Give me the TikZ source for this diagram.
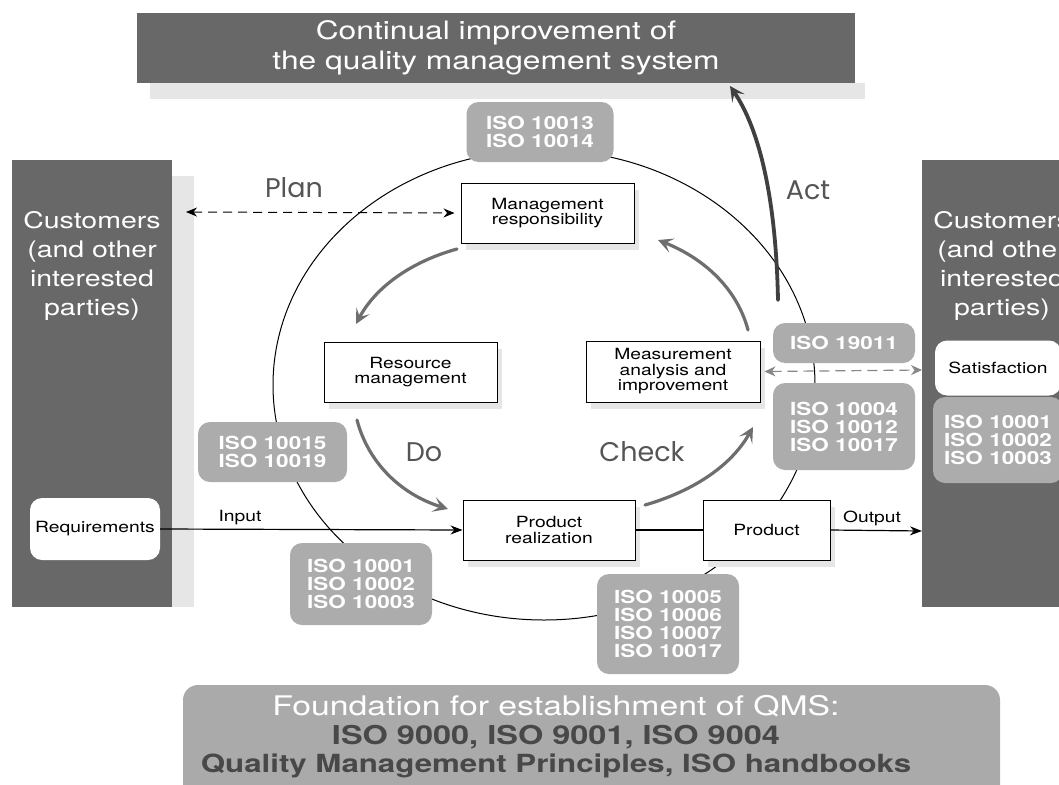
\documentclass[tikz,border=0pt]{standalone}
\usepackage{fontspec}
\setmainfont[FakeStretch=1.25]{TeX Gyre Heros}
\newfontfamily\pdcafont{Poppins}
\usetikzlibrary{arrows.meta,shadows}
\definecolor{panelgray}{RGB}{104,104,104}
\definecolor{isogray}{RGB}{172,172,172}
\definecolor{shadegray}{RGB}{230,230,230}
\definecolor{arrowgray}{RGB}{110,110,110}
\definecolor{foundgray}{RGB}{170,170,170}
\definecolor{founddark}{RGB}{72,72,72}
\definecolor{labelgray}{RGB}{85,85,85}
\definecolor{dashgray}{RGB}{135,135,135}
\begin{document}
\begin{tikzpicture}[x=1pt,y=-1pt,
  panel/.style={fill=panelgray, inner sep=0pt, align=center, text=white},
  stepbox/.style={draw=black, line width=1pt, fill=white, align=center, inner sep=0pt,
    font=\fontsize{15.4}{15.5}\selectfont,
    drop shadow={shadow xshift=5pt, shadow yshift=-7pt, fill=shadegray, opacity=1}},
  whitebox/.style={fill=white, rounded corners=12pt, inner sep=0pt, align=center,
    font=\fontsize{15.4}{16}\selectfont},
  iso/.style={fill=isogray, rounded corners=12pt, align=center, inner sep=0pt,
    text=white, font=\fontsize{18}{18}\selectfont\bfseries},
  pdca/.style={draw=arrowgray, line width=3.2pt, line cap=round,
    -{Stealth[length=15pt,width=15pt,inset=7pt]}},
  pdcalabel/.style={text=labelgray, inner sep=0pt, font=\pdcafont\fontsize{27}{27}\selectfont},
  flow/.style={draw=black, line width=1.2pt},
  lbl/.style={inner sep=0pt, font=\fontsize{15.4}{16}\selectfont}
]
\useasboundingbox (0,0) rectangle (1059,784);
\clip (0,0) rectangle (1059,784);
\fill[white] (0,0) rectangle (1059,784);

% shadows
\fill[shadegray] (150,83) rectangle (865,99);
\fill[shadegray] (172,176) rectangle (194,607);

% top box
\node[panel, minimum width=718pt, minimum height=70pt,
  font=\fontsize{25.4}{30}\selectfont] (top) at (496,48)
  {Continual improvement of\\the quality management system};

% customer panels
\node[panel, minimum width=160pt, minimum height=447pt] (lpanel) at (92,383.5) {};
\node[panel, font=\fontsize{22.8}{29}\selectfont] (lcust) at (92,266)
  {Customers\\(and other\\interested\\parties)};
\node[panel, minimum width=160pt, minimum height=447pt] (rpanel) at (1002,383.5) {};
\node[panel, font=\fontsize{22.8}{29}\selectfont] (rcust) at (1002,266)
  {Customers\\(and other\\interested\\parties)};

% foundation
\node[fill=foundgray, rounded corners=15pt, minimum width=817pt, minimum height=120pt,
  inner sep=0pt] (found) at (591.5,745) {};
\node[align=center, inner sep=0pt, font=\fontsize{25}{28.5}\selectfont] (foundtext) at (556,737)
  {\textcolor{white}{\fontsize{27}{28.5}\selectfont Foundation for establishment of QMS:}\\
   \textcolor{founddark}{\bfseries\fontsize{26}{28.5}\selectfont ISO 9000, ISO 9001, ISO 9004}\\
   \textcolor{founddark}{\bfseries Quality Management Principles, ISO handbooks}};

% the cycle
\draw[line width=1pt] (544,385) ellipse [x radius=271pt, y radius=235pt];

% ISO boxes
\node[iso, minimum width=147pt, minimum height=60pt] (iso13) at (540,132) {ISO 10013\\ISO 10014};
\node[iso, minimum width=149pt, minimum height=60pt] (iso15) at (272.5,452) {ISO 10015\\ISO 10019};
\node[iso, minimum width=142pt, minimum height=82pt] (isol) at (361,584) {ISO 10001\\ISO 10002\\ISO 10003};
\node[iso, minimum width=142pt, minimum height=100pt] (iso05) at (668,624) {ISO 10005\\ISO 10006\\ISO 10007\\ISO 10017};
\node[iso, minimum width=142pt, minimum height=40pt] (iso19) at (844,343) {ISO 19011};
\node[iso, minimum width=142pt, minimum height=87pt] (iso04) at (844,426.5) {ISO 10004\\ISO 10012\\ISO 10017};
\node[iso, minimum width=130pt, minimum height=86pt] (isor) at (998,440) {ISO 10001\\ISO 10002\\ISO 10003};

% white boxes in the panels
\node[whitebox, minimum width=130pt, minimum height=62pt] (req) at (95,529) {Requirements};
\node[whitebox, minimum width=126pt, minimum height=55pt] (sat) at (998,368) {Satisfaction};

% process boxes
\node[stepbox, minimum width=173pt, minimum height=60pt] (mgmt) at (547.5,213) {Management\\responsibility};
\node[stepbox, minimum width=173pt, minimum height=60pt] (res) at (410.5,372) {Resource\\management};
\node[stepbox, minimum width=174pt, minimum height=61pt] (meas) at (673,371.5) {Measurement\\analysis and\\improvement};
\node[stepbox, minimum width=172pt, minimum height=60pt] (prod) at (549,530) {Product\\realization};
\node[stepbox, minimum width=127pt, minimum height=60pt] (out) at (766.5,530) {Product};

% flow connectors
\draw[flow, -{Stealth[length=12pt,width=9pt]}] (req.east) -- (prod.west);
\draw[flow] (prod.east) -- (out.west);
\coordinate (rpin) at (922,531);
\draw[flow, -{Stealth[length=12pt,width=9pt]}] (out.east) -- (rpin);
\node[lbl] (inlbl) at (240,518) {Input};
\node[lbl] (outlbl) at (872,518) {Output};

% dashed links
\coordinate (plend) at (186,212);
\draw[line width=1pt, dash pattern=on 9pt off 6pt,
  {Stealth[length=11pt,width=9pt]}-{Stealth[length=11pt,width=9pt]}]
  (plend) -- ([xshift=-6pt]mgmt.west);
\coordinate (satend) at (922,370);
\draw[draw=dashgray, line width=1.2pt, dash pattern=on 10pt off 6pt,
  {Stealth[length=11pt,width=10pt]}-{Stealth[length=11pt,width=10pt]}]
  ([xshift=4pt]meas.east) -- (satend);

% PDCA arrows
\coordinate (a1s) at (457,249);
\coordinate (a1e) at (356,324);
\draw[pdca] (a1s) .. controls (410,262) and (375,288) .. (a1e);
\coordinate (a2s) at (357,420);
\coordinate (a2e) at (448,509);
\draw[pdca] (a2s) .. controls (368,462) and (400,494) .. (a2e);
\coordinate (a3s) at (645,505);
\coordinate (a3e) at (753,427);
\draw[pdca] (a3s) .. controls (690,492) and (730,468) .. (a3e);
\coordinate (a4s) at (748,330);
\coordinate (a4e) at (658,240);
\draw[pdca] (a4s) .. controls (738,292) and (708,260) .. (a4e);
\coordinate (a5s) at (778,300);
\coordinate (a5e) at (730,86);
\draw[pdca, draw=black!75, line width=3.8pt] (a5s) .. controls (776,200) and (760,130) .. (a5e);

% PDCA labels
\node[pdcalabel] (plan) at (294,188) {Plan};
\node[pdcalabel] (act) at (808,190) {Act};
\node[pdcalabel] (do) at (424,452) {Do};
\node[pdcalabel] (check) at (642,452) {Check};
\end{tikzpicture}
\end{document}
